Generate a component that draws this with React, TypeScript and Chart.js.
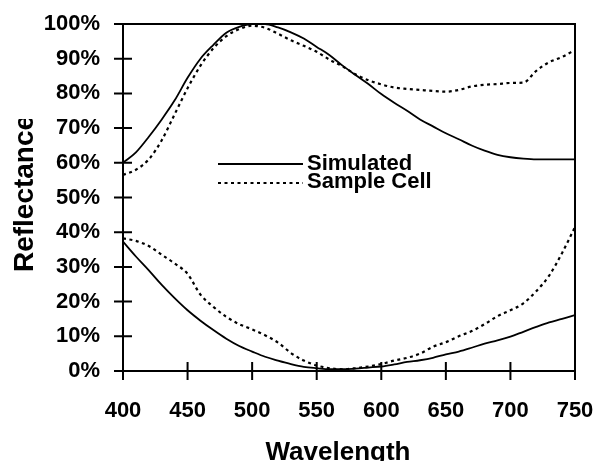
import React, { useEffect, useRef } from "react";
import { Chart, registerables } from "chart.js";

Chart.register(...registerables);

const wavelengths = [400, 410, 420, 430, 440, 450, 460, 470, 480, 490, 500, 510, 520, 530, 540, 550, 560, 570, 580, 590, 600, 610, 620, 630, 640, 650, 660, 670, 680, 690, 700, 710, 720, 730, 740, 750];

const simulatedHigh = [60, 63, 67.5, 72.5, 78, 84.5, 90, 94, 97.5, 99.2, 100, 100, 99, 97.6, 95.8, 93.4, 91, 88, 85.3, 82.7, 79.8, 77.3, 75, 72.5, 70.5, 68.5, 66.8, 65, 63.5, 62.3, 61.6, 61.2, 61, 61, 61, 61];
const sampleHigh = [56.5, 58, 61, 66.5, 74, 81.5, 88, 93, 96.5, 98.5, 99.5, 98.9, 97.2, 95.3, 93.7, 92, 89.7, 87.8, 85.5, 83.8, 82.6, 81.7, 81.3, 81, 80.7, 80.5, 81, 82, 82.5, 82.7, 83, 83.1, 86.5, 89, 90.5, 92.5];
const simulatedLow = [37.3, 33, 29, 24.8, 21, 17.5, 14.5, 11.8, 9.3, 7.2, 5.6, 4.1, 3, 2, 1.2, 0.8, 0.5, 0.5, 0.7, 1, 1.3, 1.9, 2.6, 3.1, 3.8, 4.8, 5.6, 6.7, 7.9, 8.8, 9.9, 11.3, 12.7, 14, 15, 16.1];
const sampleLow = [38.2, 37.5, 36, 33.5, 31, 28, 22, 18.5, 15.6, 13.5, 12, 10.3, 8.2, 5.2, 3, 1.6, 0.8, 0.5, 0.8, 1.3, 2, 3, 3.8, 5, 7, 8.3, 10, 11.5, 13.5, 15.8, 17.5, 19.5, 23, 27.5, 34, 41.5];

const xTicks = [400, 450, 500, 550, 600, 650, 700, 750];
const yTicks = [0, 10, 20, 30, 40, 50, 60, 70, 80, 90, 100];
const legendLabels = ["Simulated", "Sample Cell"];
const xTitle = "Wavelength";
const yTitle = "Reflectance";

const FONT = "'Liberation Sans', Arial, sans-serif";
const DASH = [3, 3.5];

const toPoints = (ys: number[]) => wavelengths.map((x, i) => ({ x, y: ys[i] }));

const decorPlugin = {
  id: "decor",
  afterDraw(chart: any) {
    const { ctx, chartArea, scales } = chart;
    const { left, right, top, bottom } = chartArea;
    ctx.save();
    ctx.strokeStyle = "#000";
    ctx.fillStyle = "#000";
    ctx.lineWidth = 2;
    ctx.setLineDash([]);
    ctx.strokeRect(left, top, right - left, bottom - top);
    // crossing ticks
    ctx.beginPath();
    yTicks.forEach((v) => {
      const y = scales.y.getPixelForValue(v);
      ctx.moveTo(left - 9, y);
      ctx.lineTo(left + 9, y);
    });
    xTicks.forEach((v) => {
      const x = scales.x.getPixelForValue(v);
      ctx.moveTo(x, bottom - 9);
      ctx.lineTo(x, bottom + 9);
    });
    ctx.stroke();

    // legend
    const lx0 = left + 95;
    const lx1 = left + 180;
    const ly = [top + 140, top + 159];
    ctx.lineWidth = 1.8;
    ctx.beginPath();
    ctx.moveTo(lx0, ly[0]);
    ctx.lineTo(lx1, ly[0]);
    ctx.stroke();
    ctx.lineWidth = 2;
    ctx.setLineDash(DASH);
    ctx.beginPath();
    ctx.moveTo(lx0, ly[1]);
    ctx.lineTo(lx1, ly[1]);
    ctx.stroke();
    ctx.setLineDash([]);
    ctx.font = `bold 22px ${FONT}`;
    ctx.textAlign = "left";
    ctx.textBaseline = "alphabetic";
    ctx.fillText(legendLabels[0], lx1 + 4, ly[0] + 6);
    ctx.fillText(legendLabels[1], lx1 + 4, ly[1] + 5);

    // x title
    ctx.font = `bold 26px ${FONT}`;
    ctx.textAlign = "center";
    ctx.fillText(xTitle, 338, 460);

    // y title (clipped at top like the reference)
    ctx.save();
    ctx.beginPath();
    ctx.rect(0, 119, 60, 200);
    ctx.clip();
    ctx.translate(33, 193.5);
    ctx.rotate(-Math.PI / 2);
    ctx.font = `bold 28px ${FONT}`;
    ctx.textAlign = "center";
    ctx.fillText(yTitle, 0, 0);
    ctx.restore();

    ctx.restore();
  },
};

export default function App() {
  const ref = useRef<HTMLCanvasElement | null>(null);
  useEffect(() => {
    if (!ref.current) return;
    const solid = { borderColor: "#000", borderWidth: 1.8, pointRadius: 0, cubicInterpolationMode: "monotone" as const, fill: false };
    const dotted = { ...solid, borderWidth: 2.2, borderDash: DASH };
    const chart = new Chart(ref.current, {
      type: "line",
      data: {
        datasets: [
          { label: legendLabels[0], data: toPoints(simulatedHigh), ...solid },
          { label: legendLabels[1], data: toPoints(sampleHigh), ...dotted },
          { label: legendLabels[0] + " low", data: toPoints(simulatedLow), ...solid },
          { label: legendLabels[1] + " low", data: toPoints(sampleLow), ...dotted },
        ],
      },
      options: {
        animation: false,
        responsive: true,
        maintainAspectRatio: false,
        layout: { padding: { left: 0, top: 24, right: 20, bottom: 0 } },
        plugins: { legend: { display: false }, tooltip: { enabled: false } },
        scales: {
          x: {
            type: "linear",
            min: 400,
            max: 750,
            afterBuildTicks: (s: any) => {
              s.ticks = xTicks.map((v) => ({ value: v }));
            },
            afterFit: (s: any) => {
              s.height = 90;
              s.paddingLeft = 0;
              s.paddingRight = 0;
            },
            grid: { display: false, drawTicks: false, tickLength: 0 },
            border: { display: false },
            ticks: {
              color: "#000",
              font: { family: FONT, size: 22, weight: "bold" },
              padding: 27,
              maxRotation: 0,
              autoSkip: false,
            },
          },
          y: {
            type: "linear",
            min: 0,
            max: 100,
            afterBuildTicks: (s: any) => {
              s.ticks = yTicks.map((v) => ({ value: v }));
            },
            afterFit: (s: any) => {
              s.width = 123;
              s.paddingTop = 0;
              s.paddingBottom = 0;
            },
            grid: { display: false, drawTicks: false, tickLength: 0 },
            border: { display: false },
            ticks: {
              color: "#000",
              font: { family: FONT, size: 22, weight: "bold" },
              padding: 23,
              autoSkip: false,
              callback: (v: any) => `${v}%`,
            },
          },
        },
      },
      plugins: [decorPlugin],
    });
    return () => chart.destroy();
  }, []);
  return (
    <div style={{ position: "absolute", left: 0, top: 0, width: 595, height: 461, background: "#fff" }}>
      <canvas ref={ref} />
    </div>
  );
}
